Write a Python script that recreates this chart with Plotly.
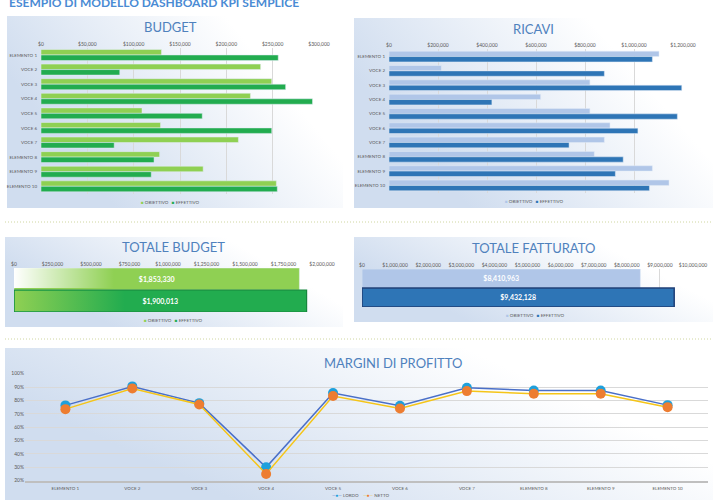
import base64
import plotly.graph_objects as go

W, H = 720, 500

# --- data ---
categories = ["ELEMENTO 1", "VOCE 2", "VOCE 3", "VOCE 4", "VOCE 5",
              "VOCE 6", "VOCE 7", "ELEMENTO 8", "ELEMENTO 9", "ELEMENTO 10"]

budget_obiettivo = [130000, 237000, 249000, 226000, 109000, 129000, 213000, 128000, 175000, 254000]
budget_effettivo = [256000, 85000, 264000, 293000, 174000, 249000, 79000, 122000, 119000, 255000]

ricavi_obiettivo = [1102000, 214000, 820000, 619000, 820000, 902000, 879000, 838000, 1075000, 1143000]
ricavi_effettivo = [1075000, 879000, 1195000, 420000, 1177000, 1016000, 735000, 956000, 924000, 1063000]

totale_label = ["TOTALE"]
totale_budget_obiettivo = [1853330]
totale_budget_effettivo = [1900013]
totale_fatturato_obiettivo = [8410963]
totale_fatturato_effettivo = [9432128]

margine_lordo = [0.763, 0.905, 0.78, 0.30, 0.855, 0.76, 0.895, 0.875, 0.875, 0.765]
margine_netto = [0.735, 0.89, 0.77, 0.25, 0.833, 0.74, 0.87, 0.85, 0.85, 0.75]

# colours
VERDE_CHIARO = "#8fd053"
VERDE = "#22ac4f"
BLU_CHIARO = "#b0c6e8"
BLU = "#2e75b6"
TITOLO = "#4f81bd"
GRIGIO = "#595959"
FONT = "Lato"


def px_x(a, b):
    return [a / W, b / W]


def px_y(top, bottom):
    return [1 - bottom / H, 1 - top / H]


# background panels with a soft blue gradient, and dotted separators
panels = [(7, 16, 343, 208), (354, 18, 713, 208), (5, 237, 343, 327),
          (354, 237, 713, 322), (5, 348, 713, 500)]
svg = ('<svg xmlns="http://www.w3.org/2000/svg" width="720" height="500" viewBox="0 0 720 500" '
       'preserveAspectRatio="none"><defs><linearGradient id="g" x1="0" y1="0.3" x2="0.65" y2="0">'
       '<stop offset="0" stop-color="#d0ddef"/><stop offset="1" stop-color="#ffffff"/>'
       '</linearGradient></defs>')
for x0, y0, x1, y1 in panels:
    svg += f'<rect x="{x0}" y="{y0}" width="{x1 - x0}" height="{y1 - y0}" fill="url(#g)"/>'
for yy in (222, 339):
    svg += (f'<line x1="5" y1="{yy}" x2="713" y2="{yy}" stroke="#cfd6a0" '
            'stroke-width="1" stroke-dasharray="1,2"/>')
svg += '</svg>'
bg_src = "data:image/svg+xml;base64," + base64.b64encode(svg.encode()).decode()


def grad_img(c0, c1, op0, op1):
    s = ('<svg xmlns="http://www.w3.org/2000/svg" width="100" height="10" viewBox="0 0 100 10" '
         'preserveAspectRatio="none"><defs><linearGradient id="h" x1="0" y1="0" x2="1" y2="0">'
         f'<stop offset="0" stop-color="{c0}" stop-opacity="{op0}"/>'
         f'<stop offset="1" stop-color="{c1}" stop-opacity="{op1}"/></linearGradient></defs>'
         '<rect x="0" y="0" width="100" height="10" fill="url(#h)"/></svg>')
    return "data:image/svg+xml;base64," + base64.b64encode(s.encode()).decode()


fig = go.Figure()

# BUDGET
fig.add_trace(go.Bar(x=budget_obiettivo, y=categories, orientation="h", name="OBIETTIVO",
                     marker_color=VERDE_CHIARO, xaxis="x", yaxis="y"))
fig.add_trace(go.Bar(x=budget_effettivo, y=categories, orientation="h", name="EFFETTIVO",
                     marker_color=VERDE, xaxis="x", yaxis="y"))

# RICAVI
fig.add_trace(go.Bar(x=ricavi_obiettivo, y=categories, orientation="h", name="OBIETTIVO",
                     marker_color=BLU_CHIARO, xaxis="x2", yaxis="y2"))
fig.add_trace(go.Bar(x=ricavi_effettivo, y=categories, orientation="h", name="EFFETTIVO",
                     marker_color=BLU, xaxis="x2", yaxis="y2"))

# TOTALE BUDGET
txt = dict(texttemplate="%{x:$,.0f}", textposition="inside", insidetextanchor="middle",
           textfont=dict(color="white", size=7, family=FONT, weight="bold"))
fig.add_trace(go.Bar(x=totale_budget_obiettivo, y=totale_label, orientation="h", width=0.5,
                     offset=-0.5, marker_color=VERDE_CHIARO, xaxis="x3", yaxis="y3", **txt))
fig.add_trace(go.Bar(x=totale_budget_effettivo, y=totale_label, orientation="h", width=0.5,
                     offset=0, marker=dict(color=VERDE, line=dict(color="#17863d", width=1.2)),
                     xaxis="x3", yaxis="y3", **txt))

# TOTALE FATTURATO
fig.add_trace(go.Bar(x=totale_fatturato_obiettivo, y=totale_label, orientation="h", width=0.5,
                     offset=-0.5, marker_color=BLU_CHIARO, xaxis="x4", yaxis="y4", **txt))
fig.add_trace(go.Bar(x=totale_fatturato_effettivo, y=totale_label, orientation="h", width=0.5,
                     offset=0, marker=dict(color=BLU, line=dict(color="#1f3f77", width=1.5)),
                     xaxis="x4", yaxis="y4", **txt))

# MARGINI DI PROFITTO
fig.add_trace(go.Scatter(x=categories, y=margine_lordo, mode="lines+markers", name="LORDO",
                         line=dict(color="#4a6fc8", width=1.5),
                         marker=dict(color="#1ea0dc", size=10), xaxis="x5", yaxis="y5"))
fig.add_trace(go.Scatter(x=categories, y=margine_netto, mode="lines+markers", name="NETTO",
                         line=dict(color="#f5c518", width=1.5),
                         marker=dict(color="#ed7d31", size=10), xaxis="x5", yaxis="y5"))

tick = dict(size=5, color=GRIGIO, family=FONT)
xbar = dict(side="top", showline=False, zeroline=False, gridcolor="#d9d9d9", gridwidth=0.8,
            tickformat="$,.0f", tickfont=tick, automargin=False, fixedrange=True)
ycat = dict(type="category", autorange="reversed", showgrid=False, showline=False,
            tickfont=dict(size=4.5, color=GRIGIO, family=FONT), automargin=False,
            ticklabelstandoff=3, fixedrange=True)
ytot = dict(type="category", range=[0.5, -0.5], showticklabels=False, showgrid=False,
            showline=False, automargin=False, fixedrange=True)

fig.update_layout(
    width=W, height=H,
    margin=dict(l=0, r=0, t=0, b=0, pad=0),
    paper_bgcolor="white", plot_bgcolor="rgba(0,0,0,0)",
    showlegend=False, barmode="group", bargap=0.25, bargroupgap=0,
    font=dict(family=FONT, color=GRIGIO),
    xaxis=dict(domain=px_x(41, 319), anchor="y", range=[0, 300000], dtick=50000, **xbar),
    yaxis=dict(domain=px_y(47.7, 193.6), anchor="x", **ycat),
    xaxis2=dict(domain=px_x(389, 683), anchor="y2", range=[0, 1200000], dtick=200000, **xbar),
    yaxis2=dict(domain=px_y(49.4, 192.6), anchor="x2", **ycat),
    xaxis3=dict(domain=px_x(14, 322), anchor="y3", range=[0, 2000000], dtick=250000, **xbar),
    yaxis3=dict(domain=px_y(268, 312), anchor="x3", **ytot),
    xaxis4=dict(domain=px_x(362, 693), anchor="y4", range=[0, 10000000], dtick=1000000, **xbar),
    yaxis4=dict(domain=px_y(269, 307), anchor="x4", **ytot),
    xaxis5=dict(domain=px_x(25, 708), anchor="y5", type="category", showgrid=False,
                showline=True, linecolor="#bfbfbf", linewidth=1.5, zeroline=False,
                tickfont=dict(size=4.5, color=GRIGIO, family=FONT), automargin=False,
                ticklabelstandoff=2, fixedrange=True),
    yaxis5=dict(domain=px_y(373.7, 480.7), anchor="x5", range=[0.2, 1.0], dtick=0.1,
                tickformat=".0%", gridcolor="#d9d9d9", zeroline=False, showline=False,
                tickfont=tick, automargin=False, fixedrange=True),
)

images = [dict(source=bg_src, xref="paper", yref="paper", x=0, y=1, sizex=1, sizey=1,
               xanchor="left", yanchor="top", sizing="stretch", layer="below"),
          # gradient at the left of the total-budget bars
          dict(source=grad_img("#ffffff", "#ffffff", 1, 0), xref="paper", yref="paper",
               x=14 / W, y=1 - 268 / H, sizex=100 / W, sizey=20 / H,
               xanchor="left", yanchor="top", sizing="stretch", layer="above"),
          dict(source=grad_img(VERDE_CHIARO, VERDE_CHIARO, 1, 0), xref="paper", yref="paper",
               x=14.6 / W, y=1 - 290.6 / H, sizex=110 / W, sizey=20.8 / H,
               xanchor="left", yanchor="top", sizing="stretch", layer="above")]
fig.update_layout(images=images)


def note(text, xp, yp, size, color=TITOLO, xanchor="center", weight="normal"):
    fig.add_annotation(text=text, x=xp / W, y=1 - yp / H, xref="paper", yref="paper",
                       showarrow=False,
                       font=dict(size=size, color=color, family=FONT, weight=weight),
                       xanchor=xanchor, yanchor="middle")


note("ESEMPIO DI MODELLO DASHBOARD KPI SEMPLICE", 7, 2, 12, color="#4a8bd4",
     xanchor="left", weight="bold")
note("BUDGET", 170, 27, 13)
note("RICAVI", 533, 29, 13)
note("TOTALE BUDGET", 173, 247, 13)
note("TOTALE FATTURATO", 533, 248, 13)
note("MARGINI DI PROFITTO", 393, 363, 13)

leg = '<span style="color:{}">■</span> OBIETTIVO   <span style="color:{}">■</span> EFFETTIVO'
note(leg.format(VERDE_CHIARO, VERDE), 170, 202, 4.5, color=GRIGIO)
note(leg.format(BLU_CHIARO, BLU), 534, 201, 4.5, color=GRIGIO)
note(leg.format(VERDE_CHIARO, VERDE), 173, 320, 4.5, color=GRIGIO)
note(leg.format(BLU_CHIARO, BLU), 535, 315, 4.5, color=GRIGIO)
note('<span style="color:#4a6fc8">—</span><span style="color:#1ea0dc">●</span>'
     '<span style="color:#4a6fc8">—</span> LORDO    '
     '<span style="color:#f5c518">—</span><span style="color:#ed7d31">●</span>'
     '<span style="color:#f5c518">—</span> NETTO', 360, 495, 4.5, color=GRIGIO)

# the page body has a default margin; drop it so the figure fills the window
fig.write_html("out.html", config={"displayModeBar": False},
               post_script="document.body.style.margin='0';")
